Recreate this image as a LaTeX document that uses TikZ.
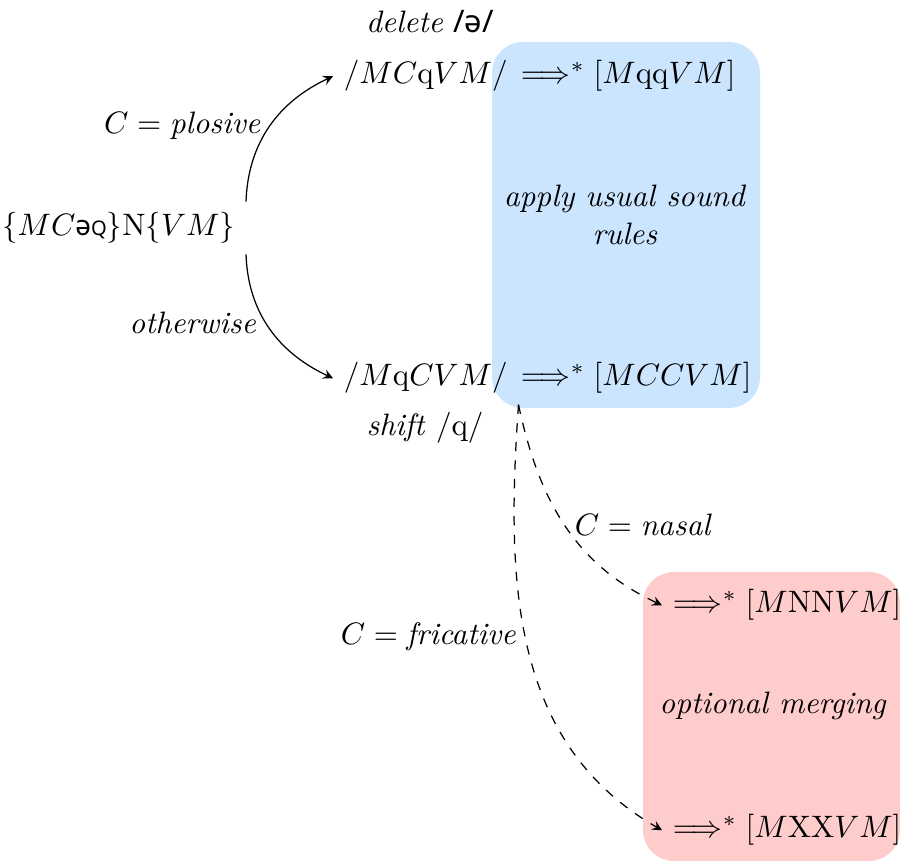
\documentclass[tikz,border=0pt]{standalone}
\usepackage{fontspec}
\newfontfamily\ipafont{Noto Sans}
\definecolor{boxblue}{RGB}{204,229,255}
\definecolor{boxred}{RGB}{255,204,204}
\begin{document}
\begin{tikzpicture}[x=0.3226pt,y=-0.3226pt,
  lbl/.style={inner sep=3pt},
  form/.style={anchor=base west,inner sep=3.33pt},
  conn/.style={->,>=stealth},
  dconn/.style={->,>=stealth,dashed}]
\useasboundingbox (0,0) rectangle (900,861);
\fill[boxblue, rounded corners=10] (492,42) rectangle (760,408);
\fill[boxred, rounded corners=10] (643,572) rectangle (900,861);

\node[lbl] (del) at (430,22) {\textit{delete} {\ipafont /ə/}};
\node[form] (top) at (333,84) {$/MC\mathrm{q}VM/$};
\node[form] (topr) at (510,84) {$\Longrightarrow^*[M\mathrm{qq}VM]$};
\node[form] (bot) at (333,386) {$/M\mathrm{q}CVM/$};
\node[form] (botr) at (510,386) {$\Longrightarrow^*[MCCVM]$};
\node[lbl] (shift) at (425,428) {\textit{shift} /q/};
\node[anchor=east,inner sep=3.33pt] (src) at (246,228) {$\{MC${\ipafont\fontsize{9pt}{10pt}\selectfont ə\fontsize{6.5pt}{8pt}\selectfont Q}$\}\mathrm{N}\{VM\}$};
\node[align=center] (usual) at (625,215) {\textit{apply usual sound}\\\textit{rules}};
\node[form] (nas) at (662,613) {$\Longrightarrow^*[M\mathrm{NN}VM]$};
\node[lbl] (merge) at (773,706) {\textit{optional merging}};
\node[form] (fri) at (662,838) {$\Longrightarrow^*[M\mathrm{XX}VM]$};

\draw[conn] (src.north east) to[out=88,in=205]
  node[left,pos=0.5,lbl] {$C=\textit{plosive}$} (top.west);
\draw[conn] (src.south east) to[out=-88,in=155]
  node[left,pos=0.45,lbl] {\textit{otherwise}} (bot.west);
\draw[dconn] (bot.south east) to[out=-78,in=155]
  node[right,pos=0.5,lbl] {$C=\textit{nasal}$} (nas.west);
\draw[dconn] (bot.south east) to[out=-94,in=150]
  node[left,pos=0.47,lbl] {$C=\textit{fricative}$} (fri.west);
\end{tikzpicture}
\end{document}
